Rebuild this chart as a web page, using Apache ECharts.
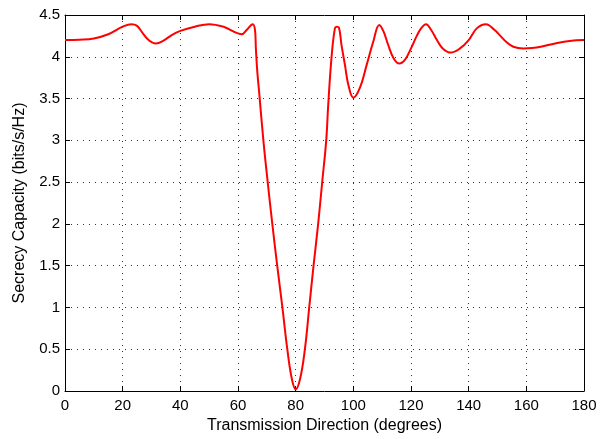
<!DOCTYPE html>
<html><head><meta charset="utf-8">
<script src="https://cdn.jsdelivr.net/npm/echarts@6/dist/echarts.min.js"></script>
<style>html,body{margin:0;padding:0;background:#fff}#c{width:616px;height:439px}</style>
</head><body><div id="c"></div>
<script>
const directions = [0,5,10,15,20,23,25,27,29,31.5,34,37,40,45,50,55,58,60,61.3,63,65.1,65.9,66.2,66.7,67.4,68.8,70.3,71.9,73.6,75.4,77.1,78.7,80,81.5,83.2,84.7,86.2,87.8,89.2,90.6,91.3,92.5,93.6,94.2,95,95.9,97.1,98.3,100,102.3,104.6,106.9,109,110.5,112,114,116,118,120,122,123.5,125.2,127,129,131,133.8,137,140,142.8,146,149,151,153,155.5,159,162,165,170,175,180];
const capacity = [4.20,4.205,4.22,4.27,4.36,4.39,4.37,4.28,4.20,4.16,4.19,4.26,4.31,4.36,4.39,4.36,4.31,4.28,4.27,4.32,4.39,4.32,4.10,3.82,3.55,3.0,2.5,2.0,1.5,1.0,0.5,0.14,0.02,0.14,0.5,1.0,1.5,2.0,2.5,3.0,3.43,4.02,4.34,4.36,4.35,4.14,3.90,3.66,3.51,3.63,3.90,4.18,4.38,4.30,4.15,3.98,3.92,3.97,4.10,4.25,4.34,4.39,4.32,4.20,4.10,4.05,4.10,4.20,4.34,4.39,4.32,4.25,4.18,4.12,4.10,4.105,4.12,4.16,4.19,4.20];
const xLabel = 'Transmission Direction (degrees)';
const yLabel = 'Secrecy Capacity (bits/s/Hz)';

const font = 'Liberation Sans, Arial, Helvetica, sans-serif';
const chart = echarts.init(document.getElementById('c'), null, {renderer:'canvas'});
const gridLine = {show:true, lineStyle:{color:'#333', type:[1,5], width:1}};
const axLine = {show:true, onZero:false, lineStyle:{color:'#000', width:1}};
const tick = {show:true, inside:true, length:5, lineStyle:{color:'#000'}};
chart.setOption({
  animation:false,
  grid:{left:65, right:32, top:15, bottom:47, containLabel:false},
  xAxis:[{
    type:'value', min:0, max:180, interval:20, position:'bottom',
    name:xLabel, nameLocation:'middle', nameGap:27,
    nameTextStyle:{fontFamily:font, fontSize:16, color:'#000'},
    axisLine:axLine, axisTick:tick, splitLine:gridLine,
    axisLabel:{fontFamily:font, fontSize:15, color:'#000', margin:7}
  },{
    type:'value', min:0, max:180, interval:20, position:'top',
    axisLine:axLine, axisTick:tick, splitLine:{show:false}, axisLabel:{show:false}
  }],
  yAxis:[{
    type:'value', min:0, max:4.5, interval:0.5, position:'left',
    name:yLabel, nameLocation:'middle', nameGap:37, nameRotate:90,
    nameTextStyle:{fontFamily:font, fontSize:16, color:'#000'},
    axisLine:axLine, axisTick:tick, splitLine:gridLine,
    axisLabel:{fontFamily:font, fontSize:15, color:'#000', margin:5}
  },{
    type:'value', min:0, max:4.5, interval:0.5, position:'right',
    axisLine:axLine, axisTick:tick, splitLine:{show:false}, axisLabel:{show:false}
  }],
  series:[{
    type:'line', data:directions.map((d,i)=>[d,capacity[i]]),
    showSymbol:false, smooth:0.4,
    lineStyle:{color:'#ff0000', width:2}, z:5
  }]
});
</script></body></html>
